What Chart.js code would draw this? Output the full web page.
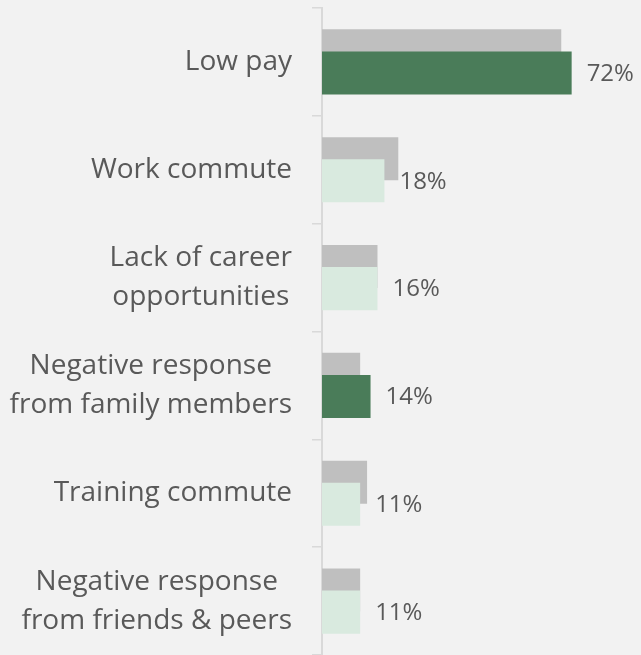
<!DOCTYPE html>
<html>
<head>
<meta charset="utf-8">
<script src="https://cdn.jsdelivr.net/npm/chart.js@4"></script>
<style>
  html, body { margin: 0; padding: 0; background: #f2f2f2; }
  #wrap { width: 641px; height: 655px; }
</style>
</head>
<body>
<div id="wrap"><canvas id="barriersChart"></canvas></div>
<script>
// Données
const categories = [
  "Low pay",
  "Work commute",
  ["Lack of career", "opportunities"],
  ["Negative response", "from family members"],
  "Training commute",
  ["Negative response", "from friends & peers"]
];
const currentValues = [72, 18, 16, 14, 11, 11];   // green bars, labelled
const previousValues = [69, 22, 16, 11, 13, 11];  // grey bars behind
const highlighted = [0, 3];                       // dark green categories

const textColor = "#595959";
Chart.defaults.font.family = "'Open Sans', sans-serif";

// Category labels: block right-aligned next to the axis, lines centered inside the block
const categoryLabels = {
  id: "categoryLabels",
  afterDraw(chart) {
    const { ctx, scales: { y }, chartArea } = chart;
    const lineHeight = 39;
    ctx.save();
    ctx.font = "28px 'Open Sans', sans-serif";
    ctx.fillStyle = textColor;
    ctx.textAlign = "center";
    ctx.textBaseline = "middle";
    categories.forEach((label, i) => {
      const lines = Array.isArray(label) ? label : [label];
      const widest = Math.max(...lines.map(l => ctx.measureText(l).width));
      const cx = chartArea.left - 30 - widest / 2;
      const cy = y.getPixelForValue(i);
      lines.forEach((line, j) => {
        ctx.fillText(line, cx, cy + (j - (lines.length - 1) / 2) * lineHeight);
      });
    });
    ctx.restore();
  }
};

// Value labels at the end of the green bars
const valueLabels = {
  id: "valueLabels",
  afterDatasetsDraw(chart) {
    const { ctx } = chart;
    const meta = chart.getDatasetMeta(0);
    ctx.save();
    ctx.font = "24px 'Open Sans', sans-serif";
    ctx.fillStyle = textColor;
    ctx.textAlign = "left";
    ctx.textBaseline = "middle";
    meta.data.forEach((bar, i) => {
      ctx.fillText(currentValues[i] + "%", bar.x + 15, bar.y + 1);
    });
    ctx.restore();
  }
};

const ctx = document.getElementById("barriersChart").getContext("2d");

new Chart(ctx, {
  type: "bar",
  data: {
    labels: categories,
    datasets: [
      {
        label: "Current",
        data: currentValues,
        backgroundColor: c => highlighted.includes(c.dataIndex) ? "#4a7c59" : "#d9eadf",
        borderWidth: 0,
        // negative percentage flips the slot order: first dataset sits lower
        // but is still painted last, so green overlaps the grey bar
        categoryPercentage: -0.41,
        barPercentage: 1.95
      },
      {
        label: "Previous",
        data: previousValues,
        backgroundColor: "#bfbfbf",
        borderWidth: 0,
        categoryPercentage: -0.41,
        barPercentage: 1.95
      }
    ]
  },
  options: {
    indexAxis: "y",
    responsive: true,
    maintainAspectRatio: false,
    animation: false,
    layout: { padding: { left: 312, top: 8, right: 0, bottom: 0 } },
    scales: {
      x: { display: false, min: 0, max: 92 },
      y: {
        ticks: { display: false },
        grid: {
          drawOnChartArea: false,
          drawTicks: true,
          tickLength: 10,
          color: "#d9d9d9",
          lineWidth: 1.5
        },
        border: { display: true, color: "#d9d9d9", width: 2 }
      }
    },
    plugins: {
      legend: { display: false },
      tooltip: { enabled: false }
    }
  },
  plugins: [categoryLabels, valueLabels]
});
</script>
</body>
</html>
